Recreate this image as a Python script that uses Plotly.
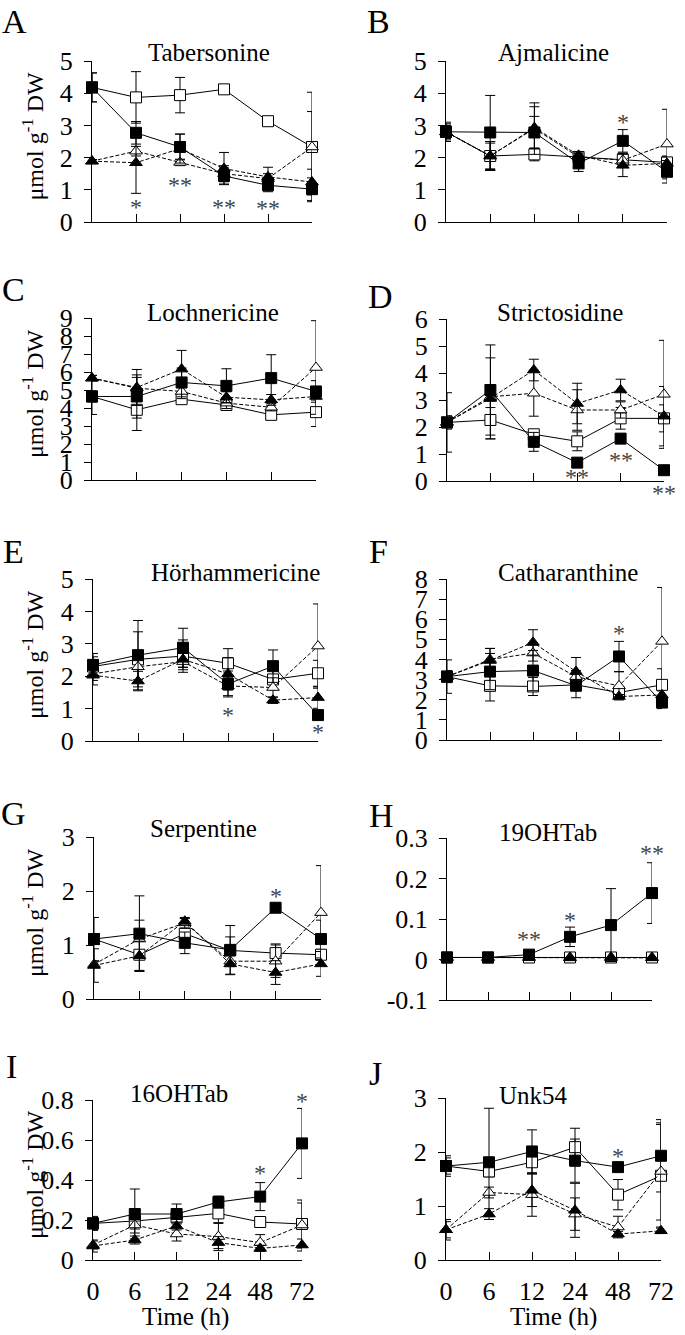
import plotly.graph_objects as go

FONT = "Liberation Serif"
W, H = 685, 1335

times = ["0", "6", "12", "24", "48", "72"]

letters = ["A", "B", "C", "D", "E", "F", "G", "H", "I", "J"]
titles = ["Tabersonine", "Ajmalicine", "Lochnericine", "Strictosidine", "Hörhammericine",
          "Catharanthine", "Serpentine", "19OHTab", "16OHTab", "Unk54"]

# ---------------- data (mean, error) per panel ----------------
# series: fsq = filled square (solid), osq = open square (solid),
#         ftri = filled triangle (dashed), otri = open triangle (dashed)
tab_fsq = [4.18, 2.77, 2.33, 1.43, 1.14, 1.02]
tab_fsq_err = [0.45, 0.35, 0.40, 0.25, 0.20, 0.35]
tab_osq = [4.18, 3.87, 3.94, 4.12, 3.13, 2.33]
tab_osq_err = [0.45, 0.80, 0.55, 0.05, 0.05, 1.70]
tab_ftri = [1.89, 1.84, 2.28, 1.66, 1.40, 1.24]
tab_ftri_err = [0.05, 0.95, 0.45, 0.50, 0.30, 0.40]
tab_otri = [1.89, 2.20, 1.85, 1.50, 1.35, 2.33]
tab_otri_err = [0.05, 0.15, 0.10, 0.25, 0.15, 1.10]

ajm_fsq = [2.80, 2.78, 2.78, 1.82, 2.52, 1.56]
ajm_fsq_err = [0.30, 1.15, 0.50, 0.25, 0.35, 0.35]
ajm_osq = [2.80, 2.05, 2.10, 2.02, 1.94, 1.85]
ajm_osq_err = [0.25, 0.45, 0.20, 0.10, 0.20, 0.20]
ajm_ftri = [2.80, 2.05, 2.93, 2.07, 1.76, 1.82]
ajm_ftri_err = [0.20, 0.45, 0.65, 0.10, 0.35, 0.20]
ajm_otri = [2.80, 2.05, 2.90, 2.02, 1.92, 2.42]
ajm_otri_err = [0.20, 0.40, 0.80, 0.10, 0.20, 1.08]

loc_fsq = [4.64, 4.64, 5.42, 5.23, 5.66, 4.92]
loc_fsq_err = [1.00, 1.20, 0.80, 0.95, 1.30, 0.60]
loc_osq = [4.64, 3.90, 4.49, 4.17, 3.62, 3.77]
loc_osq_err = [0.30, 1.15, 0.20, 0.30, 0.25, 0.80]
loc_ftri = [5.66, 5.14, 6.16, 4.60, 4.45, 4.64]
loc_ftri_err = [0.15, 1.00, 1.04, 0.30, 0.30, 0.20]
loc_otri = [5.66, 5.10, 4.92, 4.27, 4.04, 6.25]
loc_otri_err = [0.15, 0.60, 0.40, 0.30, 0.20, 2.60]

str_fsq = [2.17, 3.37, 1.45, 0.68, 1.57, 0.40]
str_fsq_err = [0.25, 1.67, 0.35, 0.10, 0.10, 0.05]
str_osq = [2.17, 2.26, 1.73, 1.47, 2.32, 2.32]
str_osq_err = [1.10, 0.70, 0.10, 0.35, 0.40, 0.50]
str_ftri = [2.17, 3.06, 4.11, 2.87, 3.37, 2.40]
str_ftri_err = [0.10, 1.50, 0.40, 0.75, 0.40, 1.10]
str_otri = [2.17, 3.12, 3.25, 2.63, 2.63, 3.21]
str_otri_err = [0.10, 0.40, 0.85, 0.75, 0.30, 2.00]

hor_fsq = [2.35, 2.65, 2.88, 1.76, 2.31, 0.80]
hor_fsq_err = [0.35, 1.07, 0.60, 0.40, 0.50, 0.05]
hor_osq = [2.30, 2.52, 2.62, 2.40, 1.90, 2.09]
hor_osq_err = [0.30, 0.85, 0.50, 0.45, 0.30, 0.40]
hor_ftri = [2.03, 1.85, 2.52, 2.07, 1.26, 1.34]
hor_ftri_err = [0.30, 0.30, 0.25, 0.50, 0.10, 0.33]
hor_otri = [2.07, 2.29, 2.45, 1.70, 1.65, 2.93]
hor_otri_err = [0.20, 0.40, 0.25, 0.30, 0.30, 1.30]

cat_fsq = [3.15, 3.40, 3.45, 2.70, 4.15, 1.86]
cat_fsq_err = [0.83, 0.90, 1.00, 0.60, 0.75, 0.30]
cat_osq = [3.15, 2.69, 2.66, 2.74, 2.36, 2.74]
cat_osq_err = [0.30, 0.75, 0.45, 0.30, 0.20, 0.80]
cat_ftri = [3.15, 3.95, 4.85, 3.40, 2.16, 2.24]
cat_ftri_err = [0.20, 0.60, 0.63, 0.70, 0.10, 0.20]
cat_otri = [3.15, 4.00, 4.32, 3.15, 2.69, 4.90]
cat_otri_err = [0.20, 0.55, 0.40, 0.30, 0.70, 2.68]

ser_fsq = [1.11, 1.21, 1.04, 0.91, 1.69, 1.11]
ser_fsq_err = [0.40, 0.70, 0.20, 0.45, 0.05, 0.35]
ser_osq = [1.11, 0.82, 1.21, 0.90, 0.85, 0.82]
ser_osq_err = [0.10, 0.30, 0.10, 0.25, 0.17, 0.10]
ser_ftri = [0.62, 0.80, 1.44, 0.65, 0.49, 0.65]
ser_ftri_err = [0.31, 0.27, 0.05, 0.20, 0.22, 0.23]
ser_otri = [0.64, 1.11, 1.41, 0.70, 0.70, 1.60]
ser_otri_err = [0.05, 0.35, 0.10, 0.10, 0.30, 0.87]

h19_fsq = [0.005, 0.005, 0.012, 0.056, 0.085, 0.164]
h19_fsq_err = [0.0, 0.0, 0.005, 0.024, 0.090, 0.075]
h19_osq = [0.005, 0.005, 0.005, 0.005, 0.005, 0.005]
h19_osq_err = [0.0, 0.0, 0.0, 0.0, 0.0, 0.0]
h19_ftri = [0.005, 0.005, 0.005, 0.004, 0.005, 0.004]
h19_ftri_err = [0.0, 0.0, 0.0, 0.0, 0.0, 0.0]
h19_otri = [0.005, 0.005, 0.005, 0.005, 0.005, 0.005]
h19_otri_err = [0.0, 0.0, 0.0, 0.0, 0.0, 0.0]

h16_fsq = [0.183, 0.230, 0.230, 0.290, 0.317, 0.583]
h16_fsq_err = [0.035, 0.125, 0.050, 0.030, 0.070, 0.175]
h16_osq = [0.183, 0.195, 0.213, 0.233, 0.190, 0.180]
h16_osq_err = [0.030, 0.060, 0.020, 0.050, 0.015, 0.120]
h16_ftri = [0.070, 0.100, 0.170, 0.087, 0.058, 0.075]
h16_ftri_err = [0.030, 0.020, 0.020, 0.030, 0.015, 0.030]
h16_otri = [0.075, 0.175, 0.130, 0.117, 0.087, 0.175]
h16_otri_err = [0.020, 0.020, 0.035, 0.070, 0.040, 0.110]

unk_fsq = [1.74, 1.81, 2.01, 1.84, 1.72, 1.93]
unk_fsq_err = [0.15, 1.00, 0.40, 0.40, 0.08, 0.67]
unk_osq = [1.74, 1.64, 1.81, 2.09, 1.21, 1.56]
unk_osq_err = [0.19, 0.10, 0.20, 0.35, 0.28, 0.95]
unk_ftri = [0.56, 0.85, 1.29, 0.92, 0.48, 0.54]
unk_ftri_err = [0.19, 0.10, 0.30, 0.50, 0.05, 0.05]
unk_otri = [0.56, 1.25, 1.21, 0.85, 0.61, 1.64]
unk_otri_err = [0.15, 0.10, 0.40, 0.30, 0.20, 0.90]

# significance marks: (time, y, text) per panel
tab_sig = [("6", 0.55, "*"), ("12", 1.25, "**"), ("24", 0.57, "**"), ("48", 0.52, "**")]
ajm_sig = [("48", 3.2, "*")]
loc_sig = []
str_sig = [("24", 0.27, "**"), ("48", 0.89, "**"), ("72", -0.35, "**")]
hor_sig = [("24", 0.90, "*"), ("72", 0.38, "*")]
cat_sig = [("48", 5.48, "*")]
ser_sig = [("48", 1.96, "*")]
h19_sig = [("12", 0.057, "**"), ("24", 0.106, "*"), ("72", 0.27, "**")]
h16_sig = [("48", 0.45, "*"), ("72", 0.81, "*")]
unk_sig = [("48", 1.99, "*")]

# y axis ticks
y_ranges = [[0, 5], [0, 5], [0, 9], [0, 6], [0, 5], [0, 8], [0, 3], [-0.1, 0.3], [0, 0.8], [0, 3]]
y_tickvals = [[0, 1, 2, 3, 4, 5], [0, 1, 2, 3, 4, 5], [0, 1, 2, 3, 4, 5, 6, 7, 8, 9],
              [0, 1, 2, 3, 4, 5, 6], [0, 1, 2, 3, 4, 5], [0, 1, 2, 3, 4, 5, 6, 7, 8],
              [0, 1, 2, 3], [-0.1, 0, 0.1, 0.2, 0.3], [0, 0.2, 0.4, 0.6, 0.8], [0, 1, 2, 3]]
y_ticktext = [["0", "1", "2", "3", "4", "5"], ["0", "1", "2", "3", "4", "5"],
              ["0", "1", "2", "3", "4", "5", "6", "7", "8", "9"],
              ["0", "1", "2", "3", "4", "5", "6"], ["0", "1", "2", "3", "4", "5"],
              ["0", "1", "2", "3", "4", "5", "6", "7", "8"],
              ["0", "1", "2", "3"], ["-0.1", "0", "0.1", "0.2", "0.3"],
              ["0", "0.2", "0.4", "0.6", "0.8"], ["0", "1", "2", "3"]]

panels = [
    (tab_fsq, tab_fsq_err, tab_osq, tab_osq_err, tab_ftri, tab_ftri_err, tab_otri, tab_otri_err, tab_sig),
    (ajm_fsq, ajm_fsq_err, ajm_osq, ajm_osq_err, ajm_ftri, ajm_ftri_err, ajm_otri, ajm_otri_err, ajm_sig),
    (loc_fsq, loc_fsq_err, loc_osq, loc_osq_err, loc_ftri, loc_ftri_err, loc_otri, loc_otri_err, loc_sig),
    (str_fsq, str_fsq_err, str_osq, str_osq_err, str_ftri, str_ftri_err, str_otri, str_otri_err, str_sig),
    (hor_fsq, hor_fsq_err, hor_osq, hor_osq_err, hor_ftri, hor_ftri_err, hor_otri, hor_otri_err, hor_sig),
    (cat_fsq, cat_fsq_err, cat_osq, cat_osq_err, cat_ftri, cat_ftri_err, cat_otri, cat_otri_err, cat_sig),
    (ser_fsq, ser_fsq_err, ser_osq, ser_osq_err, ser_ftri, ser_ftri_err, ser_otri, ser_otri_err, ser_sig),
    (h19_fsq, h19_fsq_err, h19_osq, h19_osq_err, h19_ftri, h19_ftri_err, h19_otri, h19_otri_err, h19_sig),
    (h16_fsq, h16_fsq_err, h16_osq, h16_osq_err, h16_ftri, h16_ftri_err, h16_otri, h16_otri_err, h16_sig),
    (unk_fsq, unk_fsq_err, unk_osq, unk_osq_err, unk_ftri, unk_ftri_err, unk_otri, unk_otri_err, unk_sig),
]

# ---------------- layout geometry (pixels) ----------------
x_px = [(92, 312), (446, 667), (92, 316), (447, 664), (93, 318), (447, 662),
        (94, 321), (447, 652), (93, 302), (446, 661)]
y_px = [(61, 222), (61, 222), (318, 480), (319, 481), (579, 741), (579, 740),
        (837, 999), (838, 1000), (1100, 1260), (1098, 1260)]
title_px = [(209, 52), (553, 52), (213, 312), (560, 312), (235, 572), (568, 572),
            (203, 828), (548, 833), (179, 1093), (533, 1095)]
letter_px = [(14, 22), (379, 22), (13, 290), (380, 296), (13, 551), (379, 551),
             (13, 813), (381, 815), (11, 1066), (375, 1073)]
SIG_SHIFT_PX = -3


def px_x(v):
    return v / W


def px_y(v):
    return 1 - v / H


fig = go.Figure()
annotations = []

styles = [
    # (index in panel tuple, symbol, fill, dash)
    (2, "square", "white", "solid"),        # open square
    (6, "triangle-up", "white", "dash"),    # open triangle
    (4, "triangle-up", "black", "dash"),    # filled triangle
    (0, "square", "black", "solid"),        # filled square
]

for i, p in enumerate(panels):
    n = i + 1
    xa = "x" if n == 1 else f"x{n}"
    ya = "y" if n == 1 else f"y{n}"
    x0, x1 = x_px[i]
    yt, yb = y_px[i]
    lo, hi = y_ranges[i]
    for idx, sym, fill, dash in styles:
        vals, errs = p[idx], p[idx + 1]
        fig.add_trace(go.Scatter(
            x=times, y=vals, xaxis=xa, yaxis=ya, mode="lines+markers",
            line=dict(color="black", width=1, dash="4px,2px" if dash == "dash" else "solid"),
            marker=dict(symbol=sym, size=11, color=fill,
                        line=dict(color="black", width=1)),
            error_y=dict(type="data", array=errs, visible=True, color="black",
                         thickness=1, width=5),
            cliponaxis=False, showlegend=False, hoverinfo="skip"))
    # significance asterisks (category index on x; paper y so they may sit outside the range)
    for t, v, s in p[8]:
        ypix = yt + (hi - v) / (hi - lo) * (yb - yt)
        annotations.append(dict(text=s, x=times.index(t), xref=xa, y=px_y(ypix), yref="paper",
                                xanchor="center", yanchor="middle", yshift=SIG_SHIFT_PX,
                                showarrow=False,
                                font=dict(family=FONT, size=24, color="#444444")))

    show_x = i >= 8
    fig.update_layout(**{
        f"xaxis{'' if n == 1 else n}": dict(
            domain=[px_x(x0), px_x(x1)], anchor=ya, type="category",
            categoryarray=times, categoryorder="array", range=[0, 5],
            showline=True, linecolor="black", linewidth=1,
            ticks="inside", ticklen=8, tickcolor="black", tickwidth=1,
            showgrid=False, zeroline=False, showticklabels=show_x,
            tickfont=dict(family=FONT, size=26, color="black"),
            ticklabelstandoff=8, automargin=False, fixedrange=True),
        f"yaxis{'' if n == 1 else n}": dict(
            domain=[px_y(yb), px_y(yt)], anchor=xa, range=y_ranges[i],
            tickvals=y_tickvals[i], ticktext=y_ticktext[i],
            showline=True, linecolor="black", linewidth=1,
            ticks="outside", ticklen=7, tickcolor="black", tickwidth=1,
            showgrid=False, zeroline=False,
            tickfont=dict(family=FONT, size=26, color="black"),
            ticklabelstandoff=6, automargin=False, fixedrange=True),
    })

    tx, ty = title_px[i]
    annotations.append(dict(text=titles[i], x=px_x(tx), y=px_y(ty), xref="paper", yref="paper",
                            xanchor="center", yanchor="middle", showarrow=False,
                            font=dict(family=FONT, size=25, color="black")))
    lx, ly = letter_px[i]
    annotations.append(dict(text=letters[i], x=px_x(lx), y=px_y(ly), xref="paper", yref="paper",
                            xanchor="center", yanchor="middle", showarrow=False,
                            font=dict(family=FONT, size=34, color="black")))
    if i % 2 == 0:
        annotations.append(dict(text="μmol g<sup>-1</sup> DW", x=px_x(33), y=px_y((yt + yb) / 2 - 5),
                                xref="paper", yref="paper", xanchor="center", yanchor="middle",
                                textangle=-90, showarrow=False,
                                font=dict(family=FONT, size=24, color="black")))

for cx in (185, 553):
    annotations.append(dict(text="Time (h)", x=px_x(cx), y=px_y(1317), xref="paper", yref="paper",
                            xanchor="center", yanchor="middle", showarrow=False,
                            font=dict(family=FONT, size=25, color="black")))

fig.update_layout(width=W, height=H, margin=dict(l=0, r=0, t=0, b=0, pad=0, autoexpand=False),
                  paper_bgcolor="white", plot_bgcolor="white",
                  font=dict(family=FONT, color="black"),
                  annotations=annotations, showlegend=False)

fig.write_html("out.html", config={"displayModeBar": False},
               post_script="document.body.style.margin='0px';")
